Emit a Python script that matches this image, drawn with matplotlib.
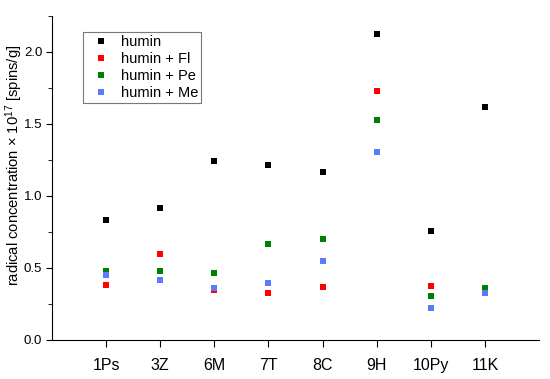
import matplotlib
matplotlib.use("Agg")
import matplotlib.pyplot as plt
from matplotlib.ticker import MultipleLocator
import numpy as np

plt.rcParams['font.family'] = ['Liberation Sans', 'DejaVu Sans']
plt.rcParams['mathtext.fontset'] = 'custom'
plt.rcParams['mathtext.rm'] = 'Liberation Sans'
plt.rcParams['mathtext.it'] = 'Liberation Sans:italic'

categories = ["1Ps", "3Z", "6M", "7T", "8C", "9H", "10Py", "11K"]
humin = [0.833, 0.917, 1.243, 1.217, 1.167, 2.127, 0.759, 1.618]
humin_fl = [0.382, 0.600, 0.345, 0.324, 0.370, 1.727, 0.375, np.nan]
humin_pe = [0.480, 0.477, 0.463, 0.664, 0.700, 1.528, 0.303, 0.363]
humin_me = [0.453, 0.419, 0.361, 0.398, 0.551, 1.306, 0.222, 0.328]

series = [
    ("humin", humin, "#000000"),
    ("humin + Fl", humin_fl, "#ff0000"),
    ("humin + Pe", humin_pe, "#008000"),
    ("humin + Me", humin_me, "#5b7cfa"),
]

fig = plt.figure(figsize=(5.5, 3.79), dpi=100)
ax = fig.add_axes([52/550, 39/379, (539-52)/550, (340-16)/379])
x = np.arange(1, len(categories) + 1)
for name, vals, col in series:
    ax.plot(x, vals, linestyle='none', marker='s', markersize=5, color=col,
            markeredgewidth=0, label=name)

ax.set_xlim(0, 9)
ax.set_ylim(0, 2.25)
ax.set_xticks(x)
ax.set_xticklabels(categories, fontsize=11.5)
ax.yaxis.set_major_locator(MultipleLocator(0.5))
ax.yaxis.set_minor_locator(MultipleLocator(0.25))
ax.tick_params(axis='y', which='major', direction='out', length=4, labelsize=9.5, pad=3)
ax.tick_params(axis='y', which='minor', direction='out', length=3)
ax.tick_params(axis='x', which='major', direction='out', length=5, pad=8)
ax.set_yticklabels([f"{v:.1f}" for v in ax.get_yticks()])
ax.spines['top'].set_visible(False)
ax.spines['right'].set_visible(False)
ax.set_ylabel(r"radical concentration × 10$^{17}$ [spins/g]", fontsize=10.6)
ax.yaxis.set_label_coords(-0.055, 0.54)

leg = ax.legend(loc='upper left', bbox_to_anchor=(31/487, 1 - 16/324), fontsize=10.5,
                frameon=True, fancybox=False, edgecolor='#555555',
                handlelength=2.0, handletextpad=0.4, borderpad=0.2, labelspacing=0.2,
                borderaxespad=0)
leg.get_frame().set_linewidth(0.8)

fig.savefig("out.png", dpi=100)
